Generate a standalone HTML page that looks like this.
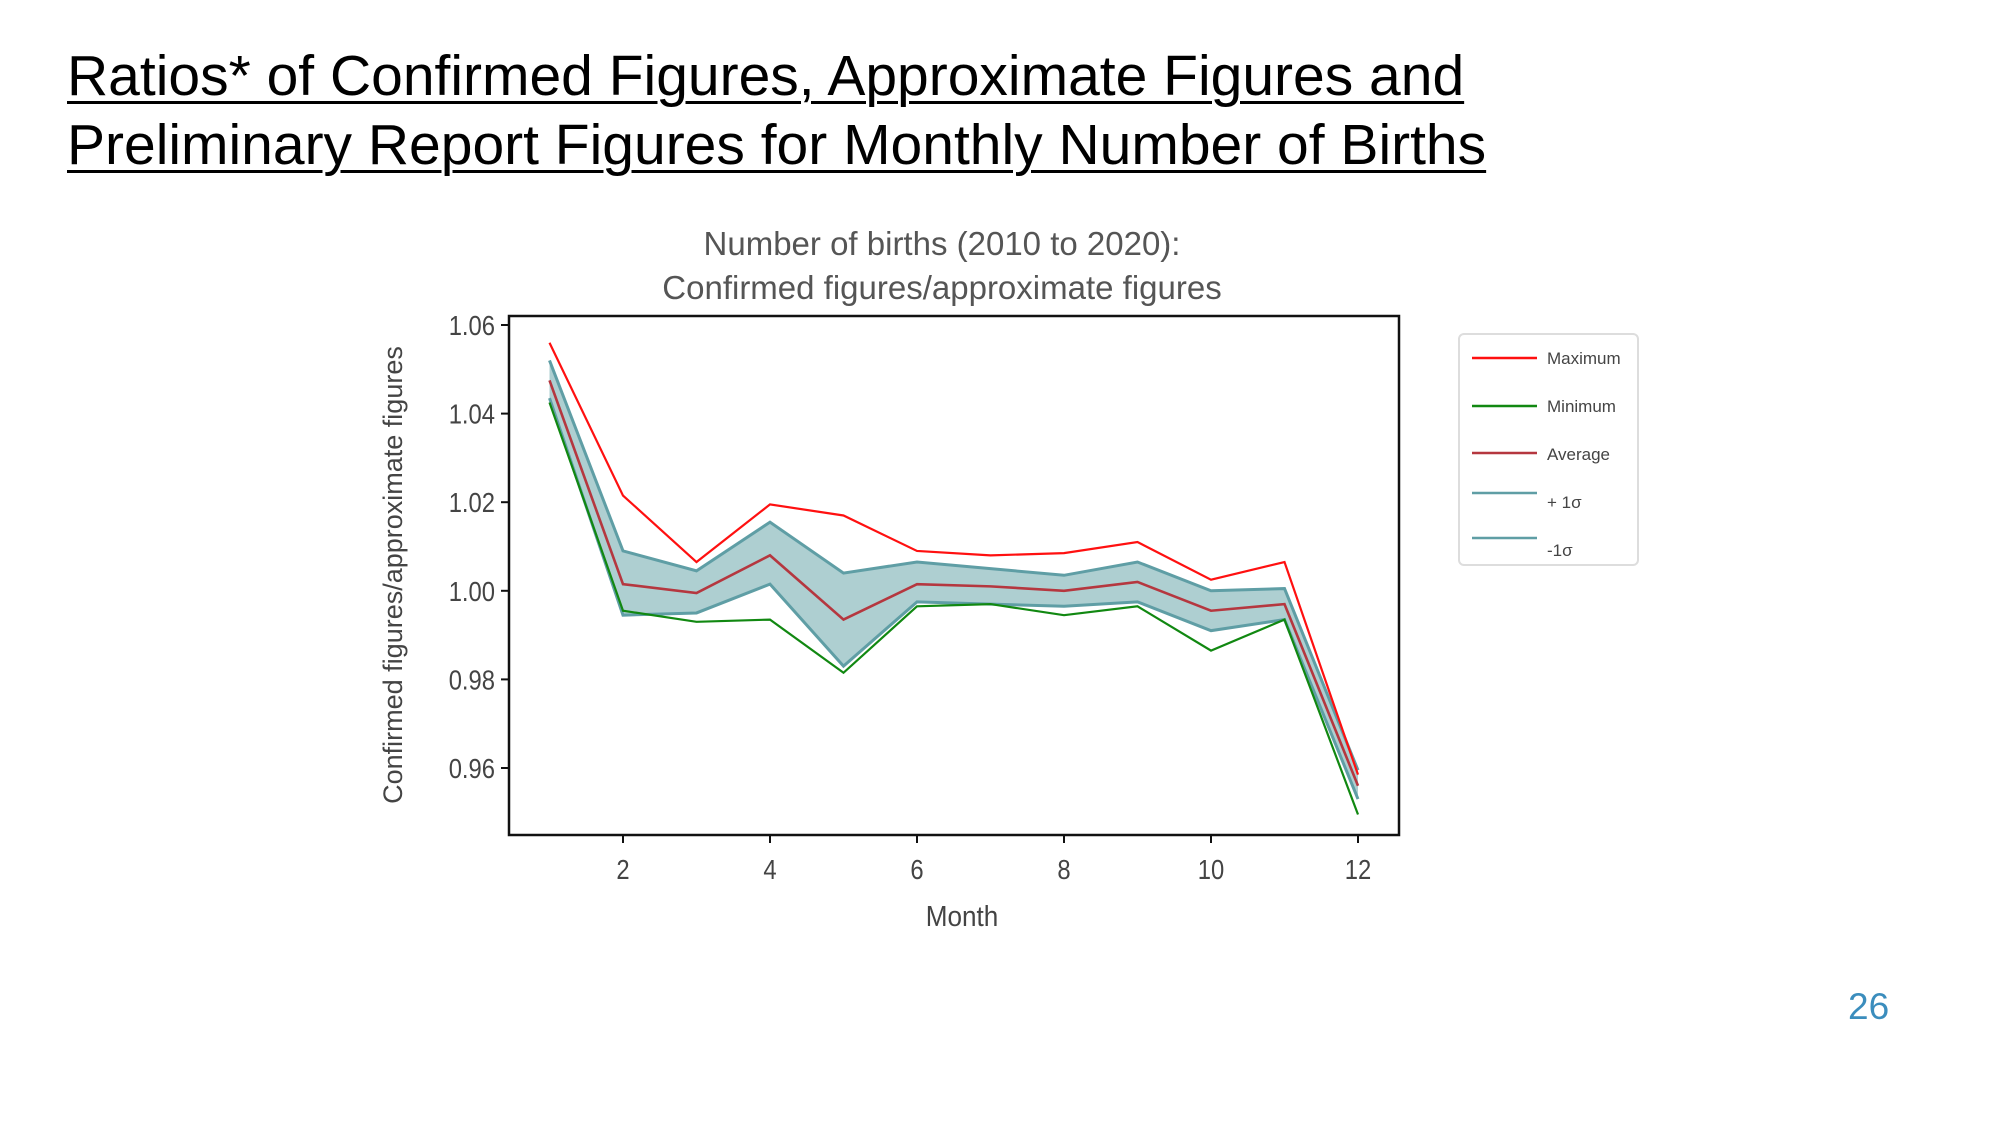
<!DOCTYPE html>
<html><head><meta charset="utf-8"><style>
body{margin:0;background:#fff;}
#page{position:relative;width:2000px;height:1125px;overflow:hidden;font-family:"Liberation Sans",sans-serif;}
.h{position:absolute;left:67px;font-size:57px;color:#000;text-decoration:underline;text-decoration-thickness:3px;text-underline-offset:6px;white-space:nowrap;}
</style></head><body>
<div id="page">
<div class="h" style="top:43px">Ratios* of Confirmed Figures, Approximate Figures and</div>
<div class="h" style="top:112px">Preliminary Report Figures for Monthly Number of Births</div>
<div style="position:absolute;left:1848px;top:986px;font-size:37px;color:#3b8dbd">26</div>
<svg id="chart" width="2000" height="1125" style="position:absolute;left:0;top:0"></svg>
</div>
<script>
const months=[1,2,3,4,5,6,7,8,9,10,11,12];
const maxVals=[1.056,1.0215,1.0065,1.0195,1.017,1.009,1.008,1.0085,1.011,1.0025,1.0065,0.9585];
const minVals=[1.0425,0.9955,0.993,0.9935,0.9815,0.9965,0.997,0.9945,0.9965,0.9865,0.9935,0.9495];
const avgVals=[1.0475,1.0015,0.9995,1.008,0.9935,1.0015,1.001,1.0,1.002,0.9955,0.997,0.956];
const plusVals=[1.052,1.009,1.0045,1.0155,1.004,1.0065,1.005,1.0035,1.0065,1.0,1.0005,0.9595];
const minusVals=[1.0435,0.9945,0.995,1.0015,0.983,0.9975,0.997,0.9965,0.9975,0.991,0.9935,0.953];
const yTicks=[0.96,0.98,1.00,1.02,1.04,1.06];
const xTicks=[2,4,6,8,10,12];
const legendLabels=["Maximum","Minimum","Average","+ 1σ","-1σ"];

const NS="http://www.w3.org/2000/svg";
const svg=document.getElementById('chart');
const L=509,R=1399,T=316,B=835;
const x=m=>623+(m-2)*73.5;
const y=v=>768-(v-0.96)/0.02*88.6;
function mk(tag,at,parent){const e=document.createElementNS(NS,tag);for(const k in at)e.setAttribute(k,at[k]);(parent||svg).appendChild(e);return e;}
function txt(s,at){const e=mk('text',at);e.textContent=s;return e;}

let t=txt('Number of births (2010 to 2020):',{x:942,y:255,'text-anchor':'middle','font-size':33,fill:'#555','font-family':'Liberation Sans, sans-serif'});

t=txt('Confirmed figures/approximate figures',{x:942,y:299,'text-anchor':'middle','font-size':33,fill:'#555','font-family':'Liberation Sans, sans-serif'});


// band
let pts=months.map((m,i)=>x(m)+','+y(plusVals[i])).concat(months.slice().reverse().map((m,j)=>{const i=months.length-1-j;return x(m)+','+y(minusVals[i]);}));
let band=mk('polygon',{points:pts.join(' '),fill:'#aecfd1',stroke:'none'});


function line(vals,color,w,name){const p=mk('polyline',{points:months.map((m,i)=>x(m)+','+y(vals[i])).join(' '),fill:'none',stroke:color,'stroke-width':w});}
line(plusVals,'#5f9ea5',3,'plus-sigma-line');
line(minusVals,'#5f9ea5',3,'minus-sigma-line');
line(maxVals,'#ff1010',2.2,'maximum-line');
line(minVals,'#118811',2.2,'minimum-line');
line(avgVals,'#b5373f',2.6,'average-line');

let fr=mk('rect',{x:L,y:T,width:R-L,height:B-T,fill:'none',stroke:'#111','stroke-width':2.5});


yTicks.forEach(v=>{
 const tk=mk('line',{x1:L-8,x2:L,y1:y(v),y2:y(v),stroke:'#111','stroke-width':2});
 
 const lb=txt(v.toFixed(2),{x:L-14,y:y(v)+10,'text-anchor':'end','font-size':28,fill:'#444',transform:`translate(${L-14},0) scale(0.85,1) translate(${-(L-14)},0)`});
 
});
xTicks.forEach(m=>{
 const tk=mk('line',{x1:x(m),x2:x(m),y1:B,y2:B+8,stroke:'#111','stroke-width':2});
 
 const lb=txt(String(m),{x:x(m),y:B+44,'text-anchor':'middle','font-size':28,fill:'#444',transform:`translate(${x(m)},0) scale(0.85,1) translate(${-x(m)},0)`});
 
});
t=txt('Month',{x:962,y:926,'text-anchor':'middle','font-size':29,fill:'#444',transform:'translate(962,0) scale(0.9,1) translate(-962,0)'});

t=txt('Confirmed figures/approximate figures',{x:0,y:0,'text-anchor':'middle','font-size':27,fill:'#444',transform:'translate(402,575) rotate(-90)'});


// legend
let lg=mk('rect',{x:1459,y:334,width:179,height:231,rx:5,fill:'#fff',stroke:'#ddd','stroke-width':2});

const lgColors=['#ff1010','#118811','#b5373f','#5f9ea5','#5f9ea5'];
const lgY=[358,406,453,493,538];
const lgTextY=[364,412,460,508,556];
legendLabels.forEach((s,i)=>{
 const l=mk('line',{x1:1472,x2:1537,y1:lgY[i],y2:lgY[i],stroke:lgColors[i],'stroke-width':2.5});
 
 const tt=txt(s,{x:1547,y:lgTextY[i],'font-size':17,fill:'#444'});
 
});
</script>
</body></html>
